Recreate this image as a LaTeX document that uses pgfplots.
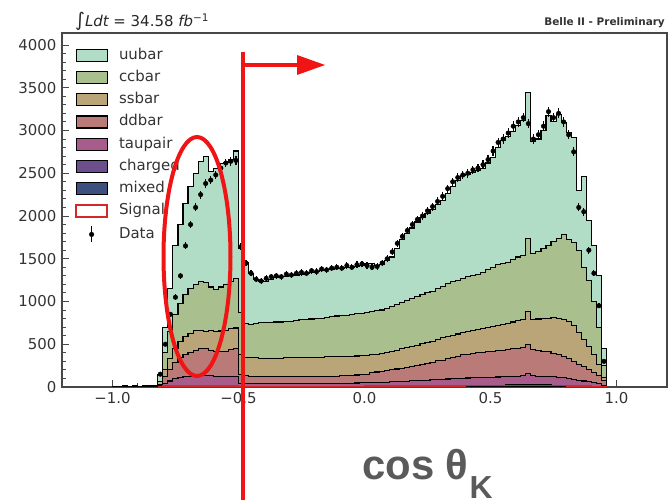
\documentclass[border=0pt]{standalone}
\usepackage{pgfplots}
\pgfplotsset{compat=1.18}
\usepackage{pgfplotstable}
\usepackage{fontspec}
\setmainfont{DejaVu Sans}
\newfontfamily\annotfont{Liberation Sans}

\definecolor{uubarc}{HTML}{B1DCC5}
\definecolor{ccbarc}{HTML}{A9C08E}
\definecolor{ssbarc}{HTML}{B9A577}
\definecolor{ddbarc}{HTML}{B97A78}
\definecolor{taupairc}{HTML}{A85C8C}
\definecolor{chargedc}{HTML}{6E4F8E}
\definecolor{mixedc}{HTML}{3D4F7F}
\definecolor{sigc}{HTML}{D62728}
\definecolor{annred}{RGB}{240,20,20}
\definecolor{anngray}{HTML}{5A5A5A}

% cumulative stack heights at the left edge of each 0.02 bin
% T = all, C = without uubar, S = without ccbar, ... M = mixed only
\pgfplotstableread{
x T C S D P Ch M
-1.00 10 0 0 0 0 0 0
-0.98 10 0 0 0 0 0 0
-0.96 12 0 0 0 0 0 0
-0.94 10 0 0 0 0 0 0
-0.92 12 0 0 0 0 0 0
-0.90 10 0 0 0 0 0 0
-0.88 12 0 0 0 0 0 0
-0.86 15 0 0 0 0 0 0
-0.84 20 0 0 0 0 0 0
-0.82 150 60 30 15 5 2 1
-0.80 700 400 200 120 40 10 4
-0.78 1150 650 330 200 70 15 6
-0.76 1650 850 450 290 95 18 7
-0.74 1900 980 530 340 110 20 8
-0.72 2150 1080 590 380 120 20 8
-0.70 2350 1150 630 405 125 20 8
-0.68 2500 1200 660 430 128 20 8
-0.66 2640 1230 665 450 130 20 8
-0.64 2700 1220 650 455 130 20 8
-0.62 2520 1170 660 430 130 20 8
-0.60 2560 1140 650 410 128 20 8
-0.58 2610 1170 655 410 128 20 8
-0.56 2630 1200 665 420 128 20 8
-0.54 2660 1230 680 440 126 20 8
-0.52 2760 1270 690 455 125 20 8
-0.50 1620 870 380 145 45 10 4
-0.48 1450 740 350 130 42 10 4
-0.46 1330 730 345 125 42 10 4
-0.44 1260 740 340 122 40 10 4
-0.42 1240 750 338 120 40 10 4
-0.40 1230 750 335 120 40 10 4
-0.38 1260 755 335 120 40 10 4
-0.36 1280 760 335 120 40 10 4
-0.34 1290 760 338 120 40 10 4
-0.32 1290 765 340 120 40 10 4
-0.30 1300 770 340 120 40 10 4
-0.28 1310 780 342 120 40 10 4
-0.26 1320 785 345 121 41 10 4
-0.24 1330 790 345 121 41 10 4
-0.22 1340 795 348 122 42 10 4
-0.20 1350 800 350 122 42 10 4
-0.18 1360 805 350 123 42 10 4
-0.16 1370 810 352 124 43 10 4
-0.14 1380 820 355 125 43 10 4
-0.12 1385 830 355 126 44 10 4
-0.10 1390 835 358 130 44 11 4
-0.08 1395 840 360 133 45 11 4
-0.06 1400 850 360 137 46 11 4
-0.04 1405 855 362 140 47 11 4
-0.02 1420 860 365 145 48 11 4
0.00 1440 870 370 150 50 12 5
0.02 1440 880 375 165 51 12 5
0.04 1420 890 385 175 52 12 5
0.06 1430 900 395 185 54 12 5
0.08 1480 920 405 192 56 12 5
0.10 1520 940 415 200 60 13 5
0.12 1620 960 430 210 62 13 5
0.14 1720 990 445 220 65 13 5
0.16 1800 1010 460 228 68 14 5
0.18 1860 1030 475 235 72 14 6
0.20 1930 1060 490 250 75 15 6
0.22 1980 1080 505 262 78 15 6
0.24 2030 1100 520 275 81 16 6
0.26 2080 1120 535 290 84 16 6
0.28 2130 1150 555 305 87 17 6
0.30 2180 1180 575 315 90 17 7
0.32 2260 1210 590 330 93 18 7
0.34 2340 1230 605 350 96 18 7
0.36 2420 1250 620 360 99 19 7
0.38 2470 1270 635 375 102 19 7
0.40 2490 1290 645 385 105 20 8
0.42 2510 1300 660 395 107 20 8
0.44 2530 1320 670 400 109 20 8
0.46 2560 1340 685 408 111 21 8
0.48 2620 1370 695 415 113 21 8
0.50 2680 1400 705 420 115 22 8
0.52 2800 1430 720 425 117 22 8
0.54 2880 1440 730 430 119 22 8
0.56 2930 1460 745 435 122 23 9
0.58 2990 1490 760 445 125 23 9
0.60 3060 1520 780 455 128 24 9
0.62 3120 1540 790 465 130 24 9
0.64 3440 1740 880 495 160 28 10
0.66 2870 1560 785 435 130 24 9
0.68 2900 1580 795 428 128 24 9
0.70 3000 1620 805 420 126 23 9
0.72 3180 1660 805 410 124 23 9
0.74 3100 1700 810 395 120 22 8
0.76 3190 1740 800 380 116 21 8
0.78 3090 1780 790 360 110 20 8
0.80 2980 1720 770 330 100 18 7
0.82 2920 1690 720 300 90 16 6
0.84 2300 1600 640 265 80 14 5
0.86 2460 1400 560 235 70 12 5
0.88 1950 1250 470 205 60 10 4
0.90 1650 1000 380 170 50 8 3
0.92 1300 700 260 130 38 6 2
0.94 450 250 110 75 20 3 1
0.96 0 0 0 0 0 0 0
}\histtab

% signal component, step heights at left bin edges
\pgfplotstableread{
x s
-0.82 5
-0.80 12
-0.50 8
0.00 10
0.40 14
0.80 10
0.90 6
0.96 0
}\sigtab

% measured counts at bin centres with their errors
\pgfplotstableread{
x y e
-0.81 150 12
-0.79 500 22
-0.77 850 29
-0.75 1050 32
-0.73 1300 36
-0.71 1650 41
-0.69 1900 44
-0.67 2100 46
-0.65 2250 47
-0.63 2380 49
-0.61 2420 49
-0.59 2480 50
-0.57 2560 51
-0.55 2620 51
-0.53 2640 51
-0.51 2650 51
-0.49 1640 40
-0.47 1450 38
-0.45 1330 36
-0.43 1260 35
-0.41 1240 35
-0.39 1270 36
-0.37 1290 36
-0.35 1300 36
-0.33 1290 36
-0.31 1320 36
-0.29 1310 36
-0.27 1330 36
-0.25 1340 37
-0.23 1330 36
-0.21 1360 37
-0.19 1350 37
-0.17 1380 37
-0.15 1370 37
-0.13 1390 37
-0.11 1400 37
-0.09 1390 37
-0.07 1420 38
-0.05 1400 37
-0.03 1430 38
-0.01 1440 38
0.01 1420 38
0.03 1400 37
0.05 1410 38
0.07 1450 38
0.09 1500 39
0.11 1580 40
0.13 1680 41
0.15 1760 42
0.17 1830 43
0.19 1900 44
0.21 1960 44
0.23 2000 45
0.25 2060 45
0.27 2110 46
0.29 2170 47
0.31 2230 47
0.33 2320 48
0.35 2400 49
0.37 2450 49
0.39 2480 50
0.41 2500 50
0.43 2540 50
0.45 2560 51
0.47 2600 51
0.49 2660 52
0.51 2760 53
0.53 2860 53
0.55 2900 54
0.57 2970 54
0.59 3050 55
0.61 3100 56
0.63 3150 56
0.65 3080 55
0.67 2900 54
0.69 2950 54
0.71 3050 55
0.73 3220 57
0.75 3150 56
0.77 3200 57
0.79 3100 56
0.81 2950 54
0.83 2750 52
0.85 2100 46
0.87 2050 45
0.89 1600 40
0.91 1330 36
0.93 950 31
0.95 300 17
}\datatab

\pgfplotsset{
  histlayer/.style={const plot mark left, draw=black, line width=1.1bp, fill=#1,
    legend image code/.code={\draw[fill=#1, draw=black, line width=1.2bp] (0bp,-6bp) rectangle (31bp,6bp);}},
}

\begin{document}
\begin{tikzpicture}
\useasboundingbox (0,0) rectangle (669bp,504bp);
\begin{axis}[
  at={(62bp,117bp)}, anchor=south west,
  scale only axis, width=605bp, height=354bp,
  xmin=-1.2, xmax=1.2, ymin=0, ymax=4140,
  xtick={-1,-0.5,0,0.5,1},
  xticklabels={−1.0,−0.5,0.0,0.5,1.0},
  ytick={0,500,1000,1500,2000,2500,3000,3500,4000},
  yticklabels={0,500,1000,1500,2000,2500,3000,3500,4000},
  minor x tick num=4, minor y tick num=4,
  tick pos=left, tick align=inside,
  major tick length=7bp, minor tick length=4bp,
  axis line style={draw=black!72, line width=1.3bp},
  every tick/.style={draw=black!72, line width=0.9bp},
  tick label style={font=\fontsize{15}{18}\selectfont, text=black!80},
  xticklabel style={yshift=-2bp},
  yticklabel style={xshift=-2bp},
  legend style={draw=none, fill=none, at={(0.0215,0.9575)}, anchor=north west,
    inner sep=0pt, row sep=7.7bp, column sep=11bp,
    font=\fontsize{15}{18}\selectfont, text=black!80,
    nodes={inner sep=0pt, text height=11bp, text depth=3.5bp}},
  legend cell align=left,
  clip=true,
]
\addplot[histlayer=uubarc] table[x=x, y=T] {\histtab} \closedcycle;
\addlegendentry{uubar}
\addplot[histlayer=ccbarc] table[x=x, y=C] {\histtab} \closedcycle;
\addlegendentry{ccbar}
\addplot[histlayer=ssbarc] table[x=x, y=S] {\histtab} \closedcycle;
\addlegendentry{ssbar}
\addplot[histlayer=ddbarc] table[x=x, y=D] {\histtab} \closedcycle;
\addlegendentry{ddbar}
\addplot[histlayer=taupairc] table[x=x, y=P] {\histtab} \closedcycle;
\addlegendentry{taupair}
\addplot[histlayer=chargedc] table[x=x, y=Ch] {\histtab} \closedcycle;
\addlegendentry{charged}
\addplot[histlayer=mixedc] table[x=x, y=M] {\histtab} \closedcycle;
\addlegendentry{mixed}
\addplot[const plot mark left, draw=sigc, line width=1.3bp,
  legend image code/.code={\draw[fill=white, draw=sigc, line width=1.8bp] (0bp,-6bp) rectangle (31bp,6bp);}]
  table[x=x, y=s] {\sigtab};
\addlegendentry{Signal}
\addplot[only marks, mark=*, mark size=2.3bp, black,
  legend image code/.code={%
    \draw[black, line width=1.2bp] (15.5bp,-8bp) -- (15.5bp,8bp);
    \fill[black] (15.5bp,0bp) circle (2.3bp);
    \path[draw=none, fill=none] (0bp,0bp) rectangle (31bp,0.1bp);},
  error bars/.cd, y dir=both, y explicit, error mark=none,
  error bar style={line width=1.2bp, black}]
  table[x=x, y=y, y error=e] {\datatab};
\addlegendentry{Data}
\end{axis}

\begin{scope}[x=1bp, y=1bp]
  % header texts
  \node[anchor=base west, inner sep=0pt, text=black!85] at (75,477)
    {{\fontsize{19}{19}\selectfont ∫}{\fontsize{15}{18}\selectfont\itshape Ldt}\fontsize{15}{18}\selectfont\ =\ 34.58\ {\itshape fb}\textsuperscript{−1}};
  \node[anchor=base east, inner sep=0pt, text=black!80] at (665,478)
    {\fontsize{10.5}{12}\selectfont\bfseries Belle II - Preliminary};
  % cut line, direction arrow and highlighted region
  \draw[annred, line width=4bp] (243,452) -- (243,4);
  \draw[annred, line width=4bp] (243,439) -- (300,439);
  \fill[annred] (297,449) -- (325,439) -- (297,429) -- cycle;
  \draw[annred, line width=4bp] (197,247.5) ellipse [x radius=33.5, y radius=119.5];
  % variable name
  \node[anchor=base west, inner sep=0pt, text=anngray] at (362,25)
    {\annotfont\bfseries\fontsize{42}{42}\selectfont cos θ\kern1bp\raisebox{-19bp}{\fontsize{32}{32}\selectfont K}};
\end{scope}
\end{tikzpicture}
\end{document}
